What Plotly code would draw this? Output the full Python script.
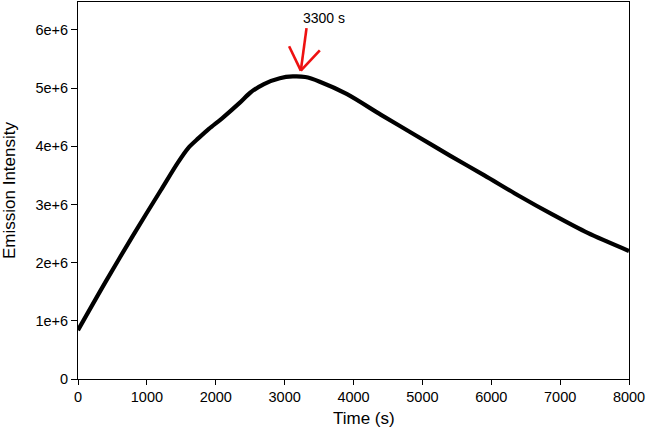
import plotly.graph_objects as go

# Data
time_s = [0, 400, 800, 1200, 1450, 1600, 1750, 1900, 2100, 2350, 2500, 2700, 2930,
          3120, 3300, 3510, 3900, 4400, 4900, 5400, 5900, 6400, 6900, 7400, 8000]
intensity = [0.84e6, 1.67e6, 2.47e6, 3.24e6, 3.72e6, 3.97e6, 4.14e6, 4.30e6, 4.49e6,
             4.75e6, 4.92e6, 5.07e6, 5.17e6, 5.20e6, 5.19e6, 5.11e6, 4.90e6, 4.54e6,
             4.19e6, 3.84e6, 3.50e6, 3.15e6, 2.82e6, 2.51e6, 2.20e6]

x_ticks = [0, 1000, 2000, 3000, 4000, 5000, 6000, 7000, 8000]
y_ticks = [0, 1e6, 2e6, 3e6, 4e6, 5e6, 6e6]
y_ticktext = ["0", "1e+6", "2e+6", "3e+6", "4e+6", "5e+6", "6e+6"]

peak_label = "3300 s"

FONT = "Liberation Sans, Arial, Helvetica, sans-serif"

fig = go.Figure()
fig.add_trace(go.Scatter(
    x=time_s, y=intensity, mode="lines",
    line=dict(color="black", width=4.2, shape="spline", smoothing=0.8),
    showlegend=False, hoverinfo="skip",
))

# Red open-V arrow (annotation) in data coordinates
tip = (3235, 5.30e6)
arrow_lines = [
    ((3318, 6.03e6), tip),
    ((3065, 5.72e6), tip),
    ((3511, 5.65e6), tip),
]
for (x0, y0), (x1, y1) in arrow_lines:
    fig.add_shape(type="line", x0=x0, y0=y0, x1=x1, y1=y1, xref="x", yref="y",
                  line=dict(color="#ee1111", width=2.6))

fig.add_annotation(x=3570, y=6.21e6, xref="x", yref="y", text=peak_label,
                   showarrow=False, font=dict(family=FONT, size=14, color="black"))

# x-axis title placed as in the reference
fig.add_annotation(x=0.519, y=-0.106, xref="paper", yref="paper", text="Time (s)",
                   showarrow=False, yanchor="middle",
                   font=dict(family=FONT, size=17, color="black"))

fig.update_layout(
    width=646, height=430,
    margin=dict(l=78, r=17, t=2, b=51),
    paper_bgcolor="white", plot_bgcolor="white",
    font=dict(family=FONT, size=14.5, color="black"),
)
fig.update_xaxes(
    range=[0, 8000], tickvals=x_ticks, ticks="outside", ticklen=5, tickwidth=1,
    tickcolor="black", showline=True, linecolor="black", linewidth=1, mirror=True,
    showgrid=False, zeroline=False,
)
fig.update_yaxes(
    range=[0, 6.48e6], tickvals=y_ticks, ticktext=y_ticktext, ticks="outside",
    ticklen=6, tickwidth=1, tickcolor="black", showline=True, linecolor="black",
    linewidth=1, mirror=True, showgrid=False, zeroline=False,
    title=dict(text="Emission Intensity", font=dict(family=FONT, size=17), standoff=15),
)

fig.write_html("out.html", config={"displayModeBar": False},
               post_script="document.body.style.margin='0';document.body.style.overflow='hidden';")
